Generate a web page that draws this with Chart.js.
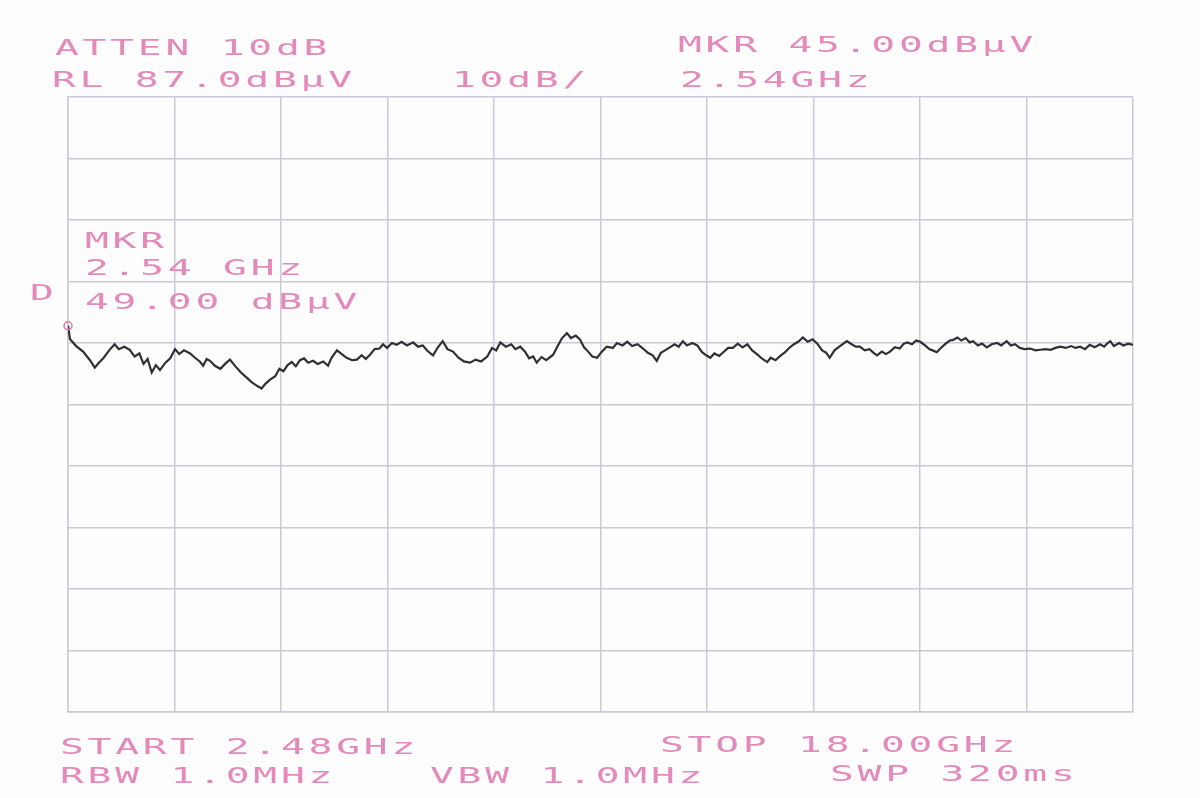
<!DOCTYPE html>
<html>
<head>
<meta charset="utf-8">
<script src="https://cdn.jsdelivr.net/npm/chart.js@4.4.0/dist/chart.umd.min.js"></script>
<style>
  html, body { margin:0; padding:0; background:#fdfdfe; }
  #wrap { position:relative; width:1200px; height:798px; overflow:hidden; }
  canvas { position:absolute; left:0; top:0; }
  .t { position:absolute; font-family:"DejaVu Sans Mono", monospace; font-size:22px; line-height:22px;
       color:#e489b9; letter-spacing:2.1px; white-space:pre; transform-origin:0 50%; transform:scaleX(1.8); }
</style>
</head>
<body>
<div id="wrap">
  <canvas id="c" width="1200" height="798"></canvas>
  <div class="t" style="left:55px;top:37px;">ATTEN 10dB</div>
  <div class="t" style="left:52px;top:69px;">RL 87.0dBμV</div>
  <div class="t" style="left:452px;top:69px;">10dB/</div>
  <div class="t" style="left:678px;top:34px;">MKR 45.00dBμV</div>
  <div class="t" style="left:680px;top:69px;">2.54GHz</div>
  <div class="t" style="left:85px;top:230px;">MKR</div>
  <div class="t" style="left:85px;top:257px;">2.54 GHz</div>
  <div class="t" style="left:30px;top:282px;">D</div>
  <div class="t" style="left:85px;top:291px;">49.00 dBμV</div>
  <div class="t" style="left:60px;top:736px;">START 2.48GHz</div>
  <div class="t" style="left:660px;top:734px;">STOP 18.00GHz</div>
  <div class="t" style="left:60px;top:765px;">RBW 1.0MHz</div>
  <div class="t" style="left:430px;top:765px;">VBW 1.0MHz</div>
  <div class="t" style="left:830px;top:763px;">SWP 320ms</div>
</div>
<script>
// Frequency (GHz) of each trace point
const freqGHz = [
  2.48, 2.51, 2.60, 2.70, 2.80, 2.87, 2.93, 3.00, 3.08, 3.16,
  3.22, 3.30, 3.38, 3.45, 3.52, 3.58, 3.64, 3.70, 3.76, 3.82,
  3.90, 3.97, 4.04, 4.10, 4.17, 4.26, 4.33, 4.40, 4.45, 4.50,
  4.55, 4.62, 4.70, 4.77, 4.84, 4.92, 5.00, 5.08, 5.16, 5.24,
  5.30, 5.36, 5.42, 5.50, 5.56, 5.62, 5.68, 5.74, 5.80, 5.86,
  5.92, 5.98, 6.05, 6.12, 6.20, 6.27, 6.32, 6.40, 6.47, 6.54,
  6.62, 6.69, 6.76, 6.82, 6.88, 6.95, 7.02, 7.07, 7.13, 7.20,
  7.27, 7.34, 7.42, 7.51, 7.58, 7.65, 7.72, 7.80, 7.87, 7.94,
  8.01, 8.09, 8.17, 8.25, 8.34, 8.42, 8.50, 8.59, 8.66, 8.72,
  8.78, 8.86, 8.94, 9.00, 9.07, 9.14, 9.20, 9.26, 9.31, 9.38,
  9.45, 9.55, 9.62, 9.68, 9.75, 9.81, 9.88, 9.94, 10.00, 10.06,
  10.12, 10.19, 10.26, 10.33, 10.42, 10.48, 10.56, 10.63, 10.70, 10.78,
  10.86, 10.93, 11.00, 11.06, 11.12, 11.18, 11.25, 11.32, 11.38, 11.44,
  11.50, 11.58, 11.65, 11.72, 11.78, 11.84, 11.90, 11.97, 12.03, 12.10,
  12.17, 12.24, 12.31, 12.38, 12.45, 12.52, 12.60, 12.67, 12.72, 12.79,
  12.86, 12.93, 13.00, 13.06, 13.12, 13.19, 13.26, 13.33, 13.40, 13.47,
  13.53, 13.58, 13.65, 13.72, 13.78, 13.83, 13.90, 13.96, 14.02, 14.09,
  14.16, 14.22, 14.27, 14.34, 14.40, 14.46, 14.53, 14.60, 14.66, 14.71,
  14.78, 14.84, 14.90, 14.97, 15.03, 15.08, 15.14, 15.20, 15.27, 15.33,
  15.38, 15.44, 15.50, 15.56, 15.62, 15.67, 15.74, 15.80, 15.87, 15.94,
  16.02, 16.08, 16.16, 16.22, 16.28, 16.35, 16.42, 16.50, 16.58, 16.65,
  16.72, 16.80, 16.87, 16.94, 17.02, 17.10, 17.16, 17.23, 17.30, 17.37,
  17.44, 17.52, 17.58, 17.63, 17.67, 17.72, 17.80, 17.86, 17.93, 18.00
];
// Level (dBμV) of each trace point
const levelDb = [
  49.8, 47.6, 46.5, 45.6, 44.2, 43.0, 43.8, 44.6, 45.8, 46.8,
  46.0, 46.4, 45.9, 44.8, 45.3, 43.6, 44.4, 42.2, 43.4, 42.6,
  43.8, 44.5, 46.0, 45.2, 45.8, 45.3, 44.6, 44.0, 43.3, 44.4,
  44.1, 43.3, 42.8, 43.6, 44.3, 43.2, 42.2, 41.4, 40.6, 40.0,
  39.6, 40.4, 41.0, 41.6, 42.8, 42.4, 43.4, 43.9, 43.2, 44.2,
  44.5, 43.8, 44.1, 43.6, 44.0, 43.3, 44.6, 45.8, 45.2, 44.6,
  44.2, 44.3, 45.0, 44.4, 45.1, 46.0, 46.1, 46.8, 46.2, 47.0,
  46.7, 47.2, 46.6, 47.1, 46.4, 46.6, 45.7, 45.0, 46.3, 47.3,
  46.0, 45.6, 44.6, 44.0, 43.8, 44.3, 44.0, 44.8, 46.2, 45.8,
  47.1, 46.4, 46.8, 46.0, 46.4, 45.6, 44.5, 44.8, 43.8, 44.7,
  44.2, 45.1, 46.6, 47.8, 48.6, 47.8, 48.2, 47.6, 46.3, 45.6,
  44.8, 44.6, 45.6, 46.4, 46.2, 47.0, 46.6, 47.2, 46.5, 46.8,
  46.1, 45.4, 45.0, 44.1, 45.4, 45.8, 46.3, 46.8, 46.4, 47.3,
  46.6, 47.0, 46.6, 45.5, 45.0, 44.6, 45.3, 44.9, 45.5, 46.2,
  46.2, 46.9, 46.3, 46.8, 45.8, 45.2, 44.4, 43.9, 44.6, 44.2,
  44.9, 45.5, 46.3, 46.8, 47.2, 47.9, 47.2, 47.6, 46.9, 45.8,
  45.4, 44.6, 45.8, 46.4, 46.9, 47.3, 46.8, 46.4, 46.4, 45.8,
  46.0, 45.4, 45.0, 45.6, 45.2, 45.6, 46.3, 46.1, 46.9, 47.1,
  46.8, 47.4, 47.2, 46.6, 46.0, 45.8, 45.5, 46.2, 46.9, 47.4,
  47.5, 47.9, 47.4, 47.8, 47.1, 47.3, 46.6, 46.9, 46.3, 46.8,
  47.0, 46.6, 47.3, 46.6, 46.8, 46.2, 46.0, 46.1, 45.8, 45.9,
  46.0, 45.9, 46.2, 46.4, 46.2, 46.5, 46.2, 46.4, 46.0, 46.7,
  46.3, 46.8, 46.4, 47.0, 47.3, 46.5, 47.0, 46.6, 46.9, 46.7
];
// Marker
const markerGHz = [2.48];
const markerDb = [49.8];
// Display settings
const startGHz = 2.48, stopGHz = 18.00;
const refLevelDb = 87, dbPerDiv = 10, divisions = 10;

const trace = freqGHz.map((f, i) => ({x: f, y: levelDb[i]}));
const marker = markerGHz.map((f, i) => ({x: f, y: markerDb[i]}));
const gridColor = '#c9cad6';

new Chart(document.getElementById('c'), {
  type: 'scatter',
  data: {
    datasets: [
      { data: marker, showLine: false, pointRadius: 4, pointBorderColor: '#d77aa8', pointBackgroundColor: 'rgba(0,0,0,0)', pointBorderWidth: 1.5, clip: false },
      { data: trace, showLine: true, borderColor: '#2f2f36', borderWidth: 2.2, pointRadius: 0, tension: 0 }
    ]
  },
  options: {
    responsive: false,
    animation: false,
    layout: { padding: { left: 68, right: 67, top: 97, bottom: 86 } },
    plugins: { legend: { display: false }, tooltip: { enabled: false } },
    scales: {
      x: {
        type: 'linear', min: startGHz, max: stopGHz,
        ticks: { display: false, count: divisions + 1 },
        grid: { color: gridColor, lineWidth: 1.5, drawTicks: false },
        border: { color: gridColor, width: 1.5 }
      },
      y: {
        type: 'linear', min: refLevelDb - dbPerDiv * divisions, max: refLevelDb,
        ticks: { display: false, count: divisions + 1 },
        grid: { color: gridColor, lineWidth: 1.5, drawTicks: false },
        border: { color: gridColor, width: 1.5 }
      }
    }
  }
});
</script>
</body>
</html>
